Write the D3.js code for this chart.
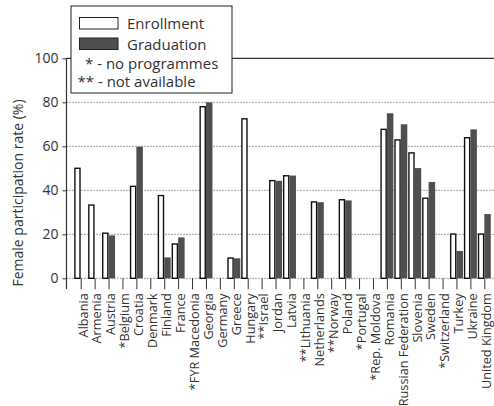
<!DOCTYPE html>
<html>
<head>
<meta charset="utf-8">
<script src="https://cdn.jsdelivr.net/npm/d3@7"></script>
<style>
  html, body { margin: 0; padding: 0; background: #fff; }
  svg { display: block; font-family: "Open Sans", sans-serif; }
</style>
</head>
<body>
<script>
// countries on the x axis (* no programmes, ** not available)
const countries = [
  "Albania", "Armenia", "Austria", "*Belgium", "Croatia", "Denmark", "Finland", "France",
  "*FYR Macedonia", "Georgia", "Germany", "Greece", "Hungary", "**Israel", "Jordan", "Latvia",
  "**Lithuania", "Netherlands", "**Norway", "Poland", "*Portugal", "*Rep. Moldova", "Romania",
  "Russian Federation", "Slovenia", "Sweden", "*Switzerland", "Turkey", "Ukraine", "United Kingdom"
];
// female participation rate (%), null = no bar
const enrollment = [50, 33.3, 20.5, null, 41.8, null, 37.6, 15.6, null, 78, null, 9.2, 72.5, null,
  44.4, 46.6, null, 34.7, null, 35.7, null, null, 67.7, 62.9, 57, 36.4, null, 20.1, 63.9, 20.1];
const graduation = [null, null, 19.5, null, 59.8, null, 9.5, 18.6, null, 80, null, 9.1, null, null,
  44.3, 46.7, null, 34.6, null, 35.4, null, null, 75, 70, 50.1, 43.8, null, 12.4, 67.7, 29.2];
const yTicks = [0, 20, 40, 60, 80, 100];
const legendItems = ["Enrollment", "Graduation"];
const legendNotes = ["* - no programmes", "** - not available"];

const width = 494, height = 406;
const plot = { left: 66.5, right: 494, top: 58.3, bottom: 278.3 };
const barW = 6.5;

const svg = d3.select("body").append("svg").attr("width", width).attr("height", height);

const x = d3.scalePoint().domain(countries).range([80.7, 484.3]);
const y = d3.scaleLinear().domain([0, 100]).range([plot.bottom, plot.top]);

// dotted gridlines (0..80), solid line at 100
svg.append("g")
  .selectAll("line")
  .data(yTicks.filter((t) => t < 100))
  .join("line")
  .attr("x1", plot.left).attr("x2", plot.right)
  .attr("y1", (d) => y(d)).attr("y2", (d) => y(d))
  .attr("stroke", "#444").attr("stroke-width", 1).attr("stroke-dasharray", "1,2");
svg.append("line")
  .attr("x1", plot.left).attr("x2", plot.right)
  .attr("y1", y(100)).attr("y2", y(100))
  .attr("stroke", "#333").attr("stroke-width", 1.2);

// y axis
const yAxis = svg.append("g")
  .attr("transform", `translate(${plot.left},0)`)
  .call(d3.axisLeft(y).tickValues(yTicks).tickSize(4).tickPadding(4));
yAxis.select(".domain").remove();
yAxis.selectAll("line").attr("stroke", "#333");
yAxis.selectAll("text").attr("font-size", 14).attr("fill", "#333")
  .attr("font-family", "Open Sans, sans-serif");
svg.append("line")
  .attr("x1", plot.left).attr("x2", plot.left)
  .attr("y1", plot.top).attr("y2", 289)
  .attr("stroke", "#333").attr("stroke-width", 1.2);

// x axis ticks and labels
const xAxis = svg.append("g")
  .attr("transform", `translate(0,${plot.bottom})`)
  .call(d3.axisBottom(x).tickSize(11).tickSizeOuter(0));
xAxis.select(".domain").remove();
xAxis.selectAll("line").attr("stroke", "#333");
xAxis.selectAll("text")
  .attr("font-size", 12.7).attr("fill", "#333")
  .attr("font-family", "Open Sans, sans-serif")
  .attr("text-anchor", "end")
  .attr("transform", "rotate(-90)")
  .attr("x", -15).attr("y", 0).attr("dy", "0.5em");

// bars
const rows = countries.map((c, i) => ({ c, e: enrollment[i], g: graduation[i] }));
svg.append("g")
  .selectAll("rect")
  .data(rows.filter((d) => d.e != null))
  .join("rect")
  .attr("x", (d) => x(d.c) - barW + 0.7)
  .attr("width", barW - 1.4)
  .attr("y", (d) => y(d.e))
  .attr("height", (d) => y(0) - y(d.e))
  .attr("fill", "#fff").attr("stroke", "#111").attr("stroke-width", 1.4);
svg.append("g")
  .selectAll("rect")
  .data(rows.filter((d) => d.g != null))
  .join("rect")
  .attr("x", (d) => x(d.c))
  .attr("width", barW)
  .attr("y", (d) => y(d.g))
  .attr("height", (d) => y(0) - y(d.g))
  .attr("fill", "#4f4f4f");

// y axis title
svg.append("text")
  .attr("transform", "translate(23,193) rotate(-90)")
  .attr("text-anchor", "middle")
  .attr("font-size", 14).attr("fill", "#333")
  .text("Female participation rate (%)");

// legend
const legend = svg.append("g");
legend.append("rect")
  .attr("x", 71).attr("y", 6).attr("width", 161).attr("height", 87)
  .attr("fill", "#fff").attr("stroke", "#222").attr("stroke-width", 1);
legend.selectAll(".sw")
  .data(legendItems)
  .join("rect")
  .attr("class", "sw")
  .attr("x", 79.5).attr("y", (d, i) => 17.5 + i * 20.5)
  .attr("width", 38.5).attr("height", 11.5)
  .attr("fill", (d, i) => (i === 0 ? "#fff" : "#4f4f4f"))
  .attr("stroke", "#222").attr("stroke-width", 1);
legend.selectAll(".lt")
  .data(legendItems)
  .join("text")
  .attr("class", "lt")
  .attr("x", 127).attr("y", (d, i) => 29 + i * 20.5)
  .attr("font-size", 15).attr("fill", "#333")
  .text((d) => d);
legend.selectAll(".nt")
  .data(legendNotes)
  .join("text")
  .attr("class", "nt")
  .attr("x", (d, i) => (i === 0 ? 85 : 77.5)).attr("y", (d, i) => 69 + i * 18)
  .attr("font-size", 15).attr("fill", "#333")
  .text((d) => d);
</script>
</body>
</html>
